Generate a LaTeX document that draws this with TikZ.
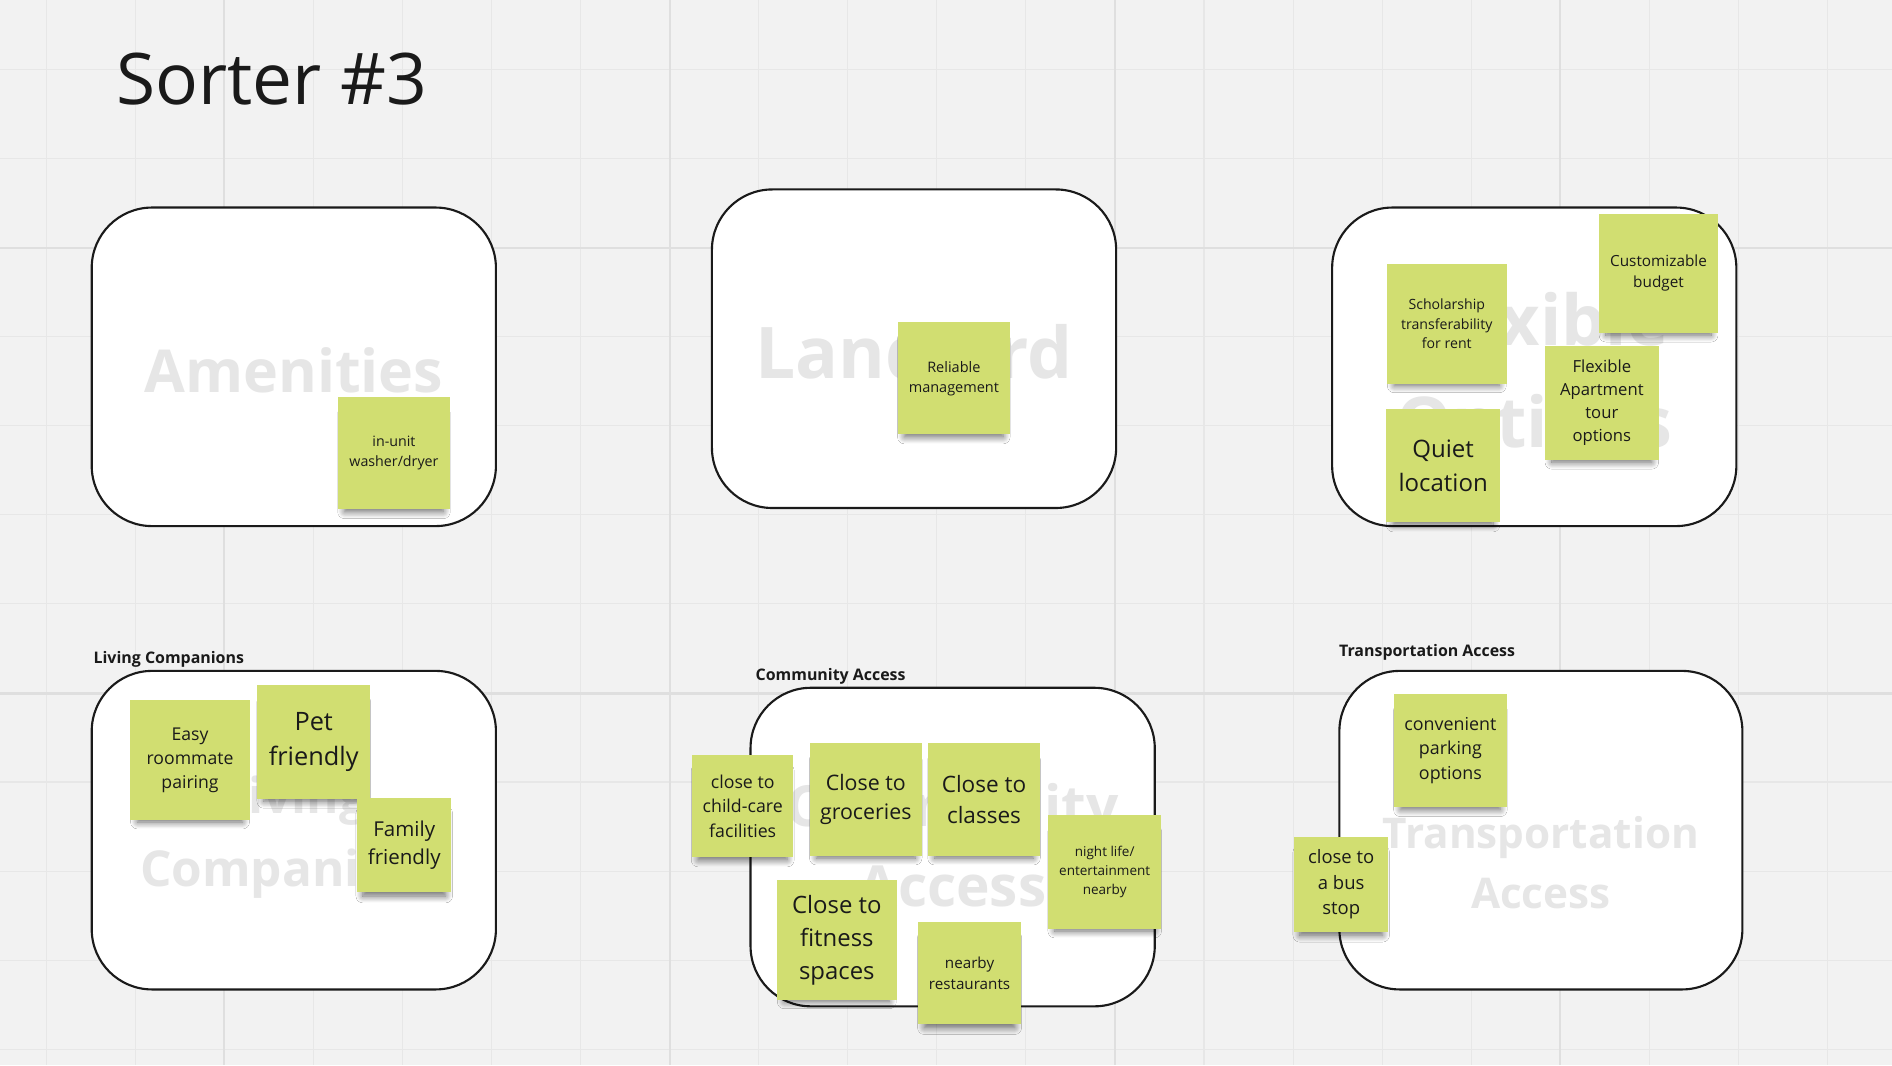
\documentclass[tikz,border=0pt]{standalone}
\usepackage{fontspec}
\setmainfont{Open Sans}
\usepackage{tikz}
\usetikzlibrary{shadows.blur}
\usepackage{xcolor}

\definecolor{boardbg}{HTML}{F2F2F2}
\definecolor{gridminor}{HTML}{E7E7E7}
\definecolor{gridmajor}{HTML}{DFDFDF}
\definecolor{boxline}{HTML}{1A1A1A}
\definecolor{ghostgray}{HTML}{E6E6E6}
\definecolor{stickygreen}{HTML}{D1DE71}
\definecolor{ink}{HTML}{1A1A1A}

% one unit = one pixel of the board
\newcommand{\pxu}{0.012cm}
\newcommand{\pxf}[1]{\fontsize{\fpeval{#1*0.3414}}{\fpeval{#1*0.3414*1.38}}\selectfont}

\tikzset{
  groupbox/.style={draw=boxline, fill=white, line width=0.6pt, rounded corners=0.6cm},
  ghost/.style={text=ghostgray, font=\bfseries\pxf{#1}, anchor=base, inner sep=0pt},
  grouplabel/.style={text=ink, font=\bfseries\pxf{13.2}, anchor=base west, inner sep=0pt},
  sticky/.style={fill=stickygreen, text=ink, align=center, inner sep=0pt,
    minimum size=#1*\pxu,
    blur shadow={shadow xshift=0pt, shadow yshift=-3pt, shadow scale=0.88,
      shadow blur radius=2.2pt, shadow blur steps=10, shadow opacity=60}},
}

\begin{document}
\begin{tikzpicture}[x=\pxu, y=-\pxu]
  % board and grid
  \fill[boardbg] (0,0) rectangle (1568,883);
  \useasboundingbox (0,0) rectangle (1568,883);
  \foreach \k in {0,...,20} {
    \draw[gridminor, line width=0.3pt] ({38.4+73.8*\k},0) -- ++(0,883);
  }
  \foreach \k in {0,...,11} {
    \draw[gridminor, line width=0.3pt] (0,{57.7+73.8*\k}) -- ++(1568,0);
  }
  \foreach \gx in {186,555,924,1293} {
    \draw[gridmajor, line width=0.6pt] (\gx,0) -- ++(0,883);
  }
  \foreach \gy in {205.7,574.7} {
    \draw[gridmajor, line width=0.6pt] (0,\gy) -- ++(1568,0);
  }

  % title
  \node[text=ink, font=\pxf{59}, anchor=base west, inner sep=0pt] (title) at (96,87) {Sorter \#3};

  % group frames
  \draw[groupbox] (76,172) rectangle (411,436);
  \draw[groupbox] (590,157) rectangle (925,421);
  \draw[groupbox] (1104,172) rectangle (1439,436);
  \draw[groupbox] (76,556) rectangle (411,820);
  \draw[groupbox] (622,570) rectangle (957,834);
  \draw[groupbox] (1110,556) rectangle (1444,820);

  % faint group names
  \node[ghost=49] (gAmen) at (243.5,325) {Amenities};
  \node[ghost=59] (gLand) at (757.5,313.6) {Landlord};
  \node[ghost=58] (gFlex) at (1271.5,286) {Flexible};
  \node[ghost=58] (gOpt) at (1271.5,370.5) {Options};
  \node[ghost=41] (gLiv) at (243.5,674) {Living};
  \node[ghost=41] (gComp) at (243.5,735) {Companions};
  \node[ghost=47] (gComm) at (789.5,685) {Community};
  \node[ghost=47] (gAcc) at (789.5,751.4) {Access};
  \node[ghost=35] (gTrans) at (1277,703) {Transportation};
  \node[ghost=35] (gTacc) at (1277,752.6) {Access};

  % group titles
  \node[grouplabel] (lLiving) at (77,549.8) {Living Companions};
  \node[grouplabel] (lCommunity) at (625.7,563.6) {Community Access};
  \node[grouplabel] (lTransport) at (1109.2,543.7) {Transportation Access};

  % sticky notes
  \node[sticky=93, font=\pxf{11.8}] (washer) at (326.5,375.5) {in-unit\\washer/dryer};
  \node[sticky=93, font=\pxf{12}] (manage) at (790.5,313.5) {Reliable\\management};
  \node[sticky=99, font=\pxf{12.7}] (budget) at (1374.5,226.5) {Customizable\\budget};
  \node[sticky=99, font=\pxf{11.7}] (scholar) at (1199,268.5) {Scholarship\\transferability\\for rent};
  \node[sticky=94, font=\pxf{13.8}] (tour) at (1327.5,334) {Flexible\\Apartment\\tour\\options};
  \node[sticky=94, font=\pxf{19.9}] (quiet) at (1196,386) {Quiet\\location};

  \node[sticky=99, font=\pxf{14.6}] (roommate) at (157.5,630) {Easy\\roommate\\pairing};
  \node[sticky=94, font=\pxf{21}] (pet) at (260,615) {Pet\\friendly};
  \node[sticky=78, font=\pxf{17}] (family) at (335,700.5) {Family\\friendly};

  \node[sticky=84, font=\pxf{14.7}] (childcare) at (615.5,668) {close to\\child-care\\facilities};
  \node[sticky=93, font=\pxf{17.7}] (grocery) at (717.5,662.5) {Close to\\groceries};
  \node[sticky=93, font=\pxf{18.7}] (classes) at (815.5,662.5) {Close to\\classes};
  \node[sticky=94, font=\pxf{11.2}] (nightlife) at (915.5,722.5) {night life/\\entertainment\\nearby};
  \node[sticky=99, font=\pxf{19.8}] (fitness) at (693.5,779) {Close to\\fitness\\spaces};
  \node[sticky=85, font=\pxf{12.6}] (food) at (803.5,806.5) {nearby\\restaurants};

  \node[sticky=94, font=\pxf{14.8}] (parking) at (1202,622) {convenient\\parking\\options};
  \node[sticky=78, font=\pxf{15.3}] (bus) at (1111.5,733) {close to\\a bus\\stop};
\end{tikzpicture}
\end{document}
